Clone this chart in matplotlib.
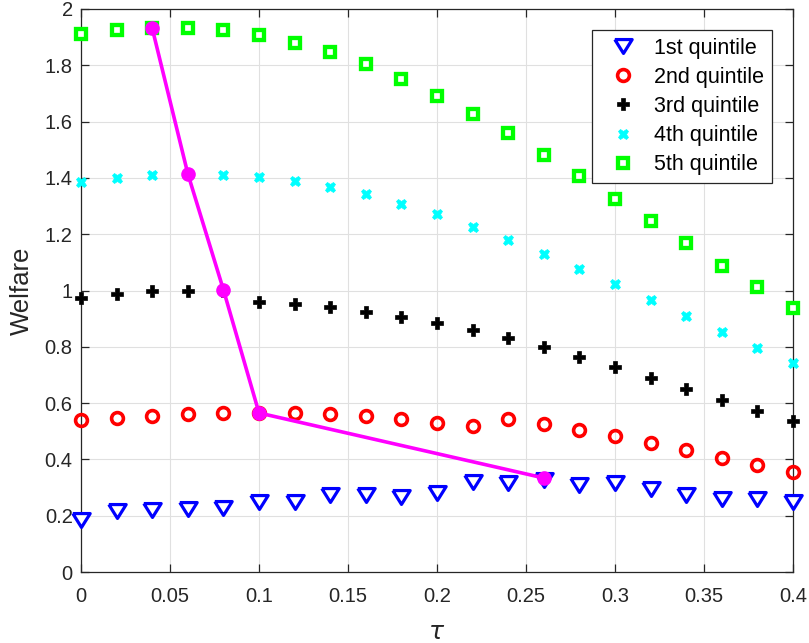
import matplotlib
matplotlib.use("Agg")
import matplotlib.pyplot as plt
import numpy as np

tau = [0, 0.02, 0.04, 0.06, 0.08, 0.10, 0.12, 0.14, 0.16, 0.18, 0.20,
       0.22, 0.24, 0.26, 0.28, 0.30, 0.32, 0.34, 0.36, 0.38, 0.40]

q1 = [0.185, 0.217, 0.220, 0.225, 0.228, 0.249, 0.250, 0.273, 0.272, 0.266, 0.281,
      0.320, 0.315, 0.328, 0.309, 0.315, 0.295, 0.274, 0.258, 0.258, 0.249]
q2 = [0.540, 0.547, 0.554, 0.561, 0.565, 0.565, 0.565, 0.561, 0.554, 0.544, 0.529,
      0.519, 0.544, 0.526, 0.504, 0.483, 0.458, 0.433, 0.405, 0.380, 0.355]
q3 = [0.973, 0.988, 0.998, 0.998, 1.000, 0.959, 0.952, 0.941, 0.924, 0.906, 0.885,
      0.860, 0.831, 0.799, 0.764, 0.728, 0.689, 0.650, 0.611, 0.572, 0.536]
q4 = [1.385, 1.400, 1.410, 1.415, 1.410, 1.403, 1.389, 1.368, 1.343, 1.307, 1.272,
      1.226, 1.179, 1.130, 1.076, 1.023, 0.966, 0.909, 0.853, 0.796, 0.742]
q5 = [1.911, 1.925, 1.932, 1.932, 1.925, 1.908, 1.879, 1.847, 1.805, 1.751, 1.691,
      1.627, 1.560, 1.481, 1.407, 1.325, 1.247, 1.169, 1.087, 1.012, 0.938]

opt_tau = [0.04, 0.06, 0.08, 0.10, 0.26]
opt_w = [1.932, 1.415, 1.003, 0.565, 0.334]

labels = ["1st quintile", "2nd quintile", "3rd quintile", "4th quintile", "5th quintile"]
xticks = [0, 0.05, 0.1, 0.15, 0.2, 0.25, 0.3, 0.35, 0.4]
xticklabels = ["0", "0.05", "0.1", "0.15", "0.2", "0.25", "0.3", "0.35", "0.4"]
yticks = [0, 0.2, 0.4, 0.6, 0.8, 1.0, 1.2, 1.4, 1.6, 1.8, 2.0]
yticklabels = ["0", "0.2", "0.4", "0.6", "0.8", "1", "1.2", "1.4", "1.6", "1.8", "2"]

plt.rcParams['font.family'] = ['Liberation Sans', 'DejaVu Sans']

fig = plt.figure(figsize=(8.09, 6.43), dpi=100)
ax = fig.add_axes([81/809, 1 - 572/643, (793 - 81)/809, (572 - 9)/643])

tri = [(-1, 0.8), (1, 0.8), (0, -0.8), (-1, 0.8)]

ax.plot(tau, q1, linestyle='none', marker=tri, markersize=12.5, markerfacecolor='white',
        markeredgecolor='#0000ff', markeredgewidth=2.3, label=labels[0], zorder=3, clip_on=False)
ax.plot(tau, q2, linestyle='none', marker='o', markersize=8.5, markerfacecolor='none',
        markeredgecolor='#ff0000', markeredgewidth=2.6, label=labels[1], zorder=3, clip_on=False)
ax.plot(tau, q3, linestyle='none', marker='P', markersize=8.3, markerfacecolor='black',
        markeredgecolor='black', markeredgewidth=0.5, label=labels[2], zorder=3, clip_on=False)
ax.plot(tau, q4, linestyle='none', marker='X', markersize=7.8, markerfacecolor='#00ffff',
        markeredgecolor='#00ffff', markeredgewidth=0.5, label=labels[3], zorder=3, clip_on=False)
ax.plot(tau, q5, linestyle='none', marker='s', markersize=7.2, markerfacecolor='white',
        markeredgecolor='#00ff00', markeredgewidth=3.1, label=labels[4], zorder=3, clip_on=False)

ax.plot(opt_tau, opt_w, color='#ff00ff', linewidth=2.6, marker='o', markersize=9.5,
        markerfacecolor='#ff00ff', markeredgecolor='#ff00ff', zorder=4, clip_on=False)

ax.set_xlim(0, 0.4)
ax.set_ylim(0, 2)
ax.set_xticks(xticks)
ax.set_xticklabels(xticklabels)
ax.set_yticks(yticks)
ax.set_yticklabels(yticklabels)
ax.grid(True, color='#e0e0e0', linewidth=0.8)
ax.set_axisbelow(True)
for s in ax.spines.values():
    s.set_color('#262626')
    s.set_linewidth(0.9)
ax.tick_params(direction='in', top=True, right=True, length=6, width=0.9,
               colors='#262626', labelsize=14.5)
ax.tick_params(axis='x', pad=11)
ax.tick_params(axis='y', pad=6)
for lab in ax.get_xticklabels() + ax.get_yticklabels():
    lab.set_color('#262626')

ax.set_xlabel(r'$\tau$', fontsize=18, color='#262626', labelpad=10)
ax.set_ylabel('Welfare', fontsize=18.5, color='#262626', labelpad=8)

leg = ax.legend(loc='upper right', bbox_to_anchor=(0.9705, 0.9627), borderaxespad=0,
                fontsize=15.5, frameon=True, fancybox=False, edgecolor='#262626',
                framealpha=1, borderpad=0.35, labelspacing=0.38, handletextpad=0.35,
                handlelength=2.2)
leg.get_frame().set_linewidth(0.9)

fig.savefig('out.png', dpi=100)
